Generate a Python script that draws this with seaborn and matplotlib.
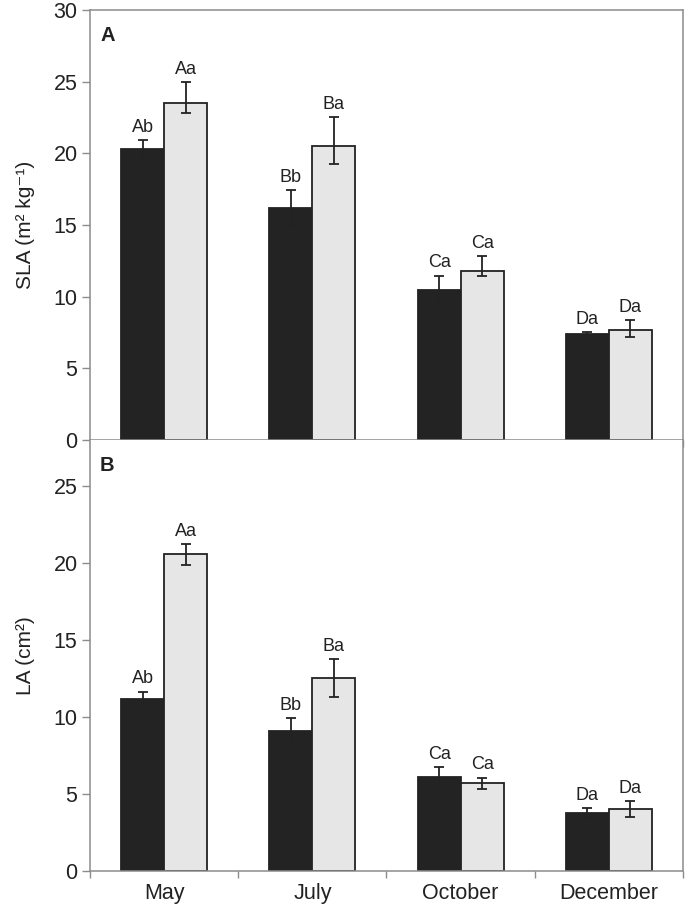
import numpy as np
import pandas as pd
import matplotlib
matplotlib.use('Agg')
import matplotlib.pyplot as plt
import seaborn as sns


months = ['May', 'July', 'October', 'December']
groups = ['dark', 'light']

# panel A: SLA (m2 kg-1)
sla_dark = [20.3, 16.2, 10.5, 7.4]
sla_dark_err = [0.65, 1.25, 0.97, 0.14]
sla_light = [23.5, 20.5, 11.8, 7.7]
sla_light_err_lo = [0.7, 1.25, 0.37, 0.53]
sla_light_err_hi = [1.46, 2.05, 1.02, 0.67]
sla_letters_dark = ['Ab', 'Bb', 'Ca', 'Da']
sla_letters_light = ['Aa', 'Ba', 'Ca', 'Da']

# panel B: LA (cm2)
la_dark = [11.15, 9.1, 6.1, 3.77]
la_dark_err = [0.5, 0.85, 0.63, 0.33]
la_light = [20.6, 12.55, 5.72, 4.03]
la_light_err_lo = [0.69, 1.24, 0.39, 0.52]
la_light_err_hi = [0.63, 1.21, 0.35, 0.5]
la_letters_dark = ['Ab', 'Bb', 'Ca', 'Da']
la_letters_light = ['Aa', 'Ba', 'Ca', 'Da']

sns.set_style('white')
plt.rcParams['font.family'] = ['Liberation Sans', 'DejaVu Sans']

fig = plt.figure(figsize=(6.85, 9.11), dpi=100)
ax1 = fig.add_axes([0.1314, 0.517, 0.8656, 0.472])
ax2 = fig.add_axes([0.1314, 0.044, 0.8656, 0.473])

spine_col = '#8c8c8c'
bar_edge = '#222222'
text_col = '#222222'
palette = {'dark': '#232323', 'light': '#e6e6e6'}


def draw_panel(ax, dark, dark_err, light, light_lo, light_hi,
               let_dark, let_light, ymax, yticks, ylabel, tag, show_x):
    df = pd.DataFrame({
        'month': months * 2,
        'group': ['dark'] * 4 + ['light'] * 4,
        'value': list(dark) + list(light),
    })
    sns.barplot(data=df, x='month', y='value', hue='group', order=months,
                hue_order=groups, palette=palette, width=0.58, gap=0,
                edgecolor=bar_edge, linewidth=1.3, errorbar=None,
                legend=False, ax=ax, zorder=2)

    bars = ax.patches[:8]
    xs_dark = [b.get_x() + b.get_width() / 2 for b in bars[:4]]
    xs_light = [b.get_x() + b.get_width() / 2 for b in bars[4:]]

    ax.errorbar(xs_dark, dark, yerr=[dark_err, dark_err], fmt='none',
                ecolor='#222222', elinewidth=1.3, capsize=3.5,
                capthick=1.3, zorder=3)
    ax.errorbar(xs_light, light, yerr=[light_lo, light_hi], fmt='none',
                ecolor='#222222', elinewidth=1.3, capsize=3.5,
                capthick=1.3, zorder=3)

    for x, v, e, t in zip(xs_dark, dark, dark_err, let_dark):
        ax.annotate(t, (x, v + e), xytext=(0, 3), textcoords='offset points',
                    ha='center', va='bottom', fontsize=13, color=text_col)
    for x, v, e, t in zip(xs_light, light, light_hi, let_light):
        ax.annotate(t, (x, v + e), xytext=(0, 3), textcoords='offset points',
                    ha='center', va='bottom', fontsize=13, color=text_col)

    ax.set_xlim(-0.5, 3.5)
    ax.set_ylim(0, ymax)
    ax.set_yticks(yticks)
    ax.set_ylabel(ylabel, fontsize=15, color=text_col, labelpad=13)
    ax.set_xlabel('')

    ax.set_xticks(range(4))
    ax.set_xticks([-0.5, 0.5, 1.5, 2.5, 3.5], minor=True)
    if show_x:
        ax.set_xticklabels(months)
    else:
        ax.set_xticklabels([])
    ax.tick_params(axis='x', which='major', length=0, labelsize=15.5,
                   pad=9, labelcolor=text_col)
    ax.tick_params(axis='x', which='minor', length=5, width=1,
                   color=spine_col, direction='out', bottom=True)
    ax.tick_params(axis='y', length=6, width=1, color=spine_col,
                   direction='out', left=True, labelsize=15.5, pad=3,
                   labelcolor=text_col)

    for s in ax.spines.values():
        s.set_color(spine_col)
        s.set_linewidth(1.1)
        s.set_visible(True)

    ax.text(0.017, 0.963, tag, transform=ax.transAxes, ha='left', va='top',
            fontsize=14.5, fontweight='bold', color=text_col)


draw_panel(ax1, sla_dark, sla_dark_err, sla_light, sla_light_err_lo,
           sla_light_err_hi, sla_letters_dark, sla_letters_light,
           30, [0, 5, 10, 15, 20, 25, 30],
           'SLA (m² kg⁻¹)', 'A', False)
draw_panel(ax2, la_dark, la_dark_err, la_light, la_light_err_lo,
           la_light_err_hi, la_letters_dark, la_letters_light,
           28, [0, 5, 10, 15, 20, 25],
           'LA (cm²)', 'B', True)

ax2.spines['top'].set_visible(False)

fig.savefig('out.png', dpi=100)
